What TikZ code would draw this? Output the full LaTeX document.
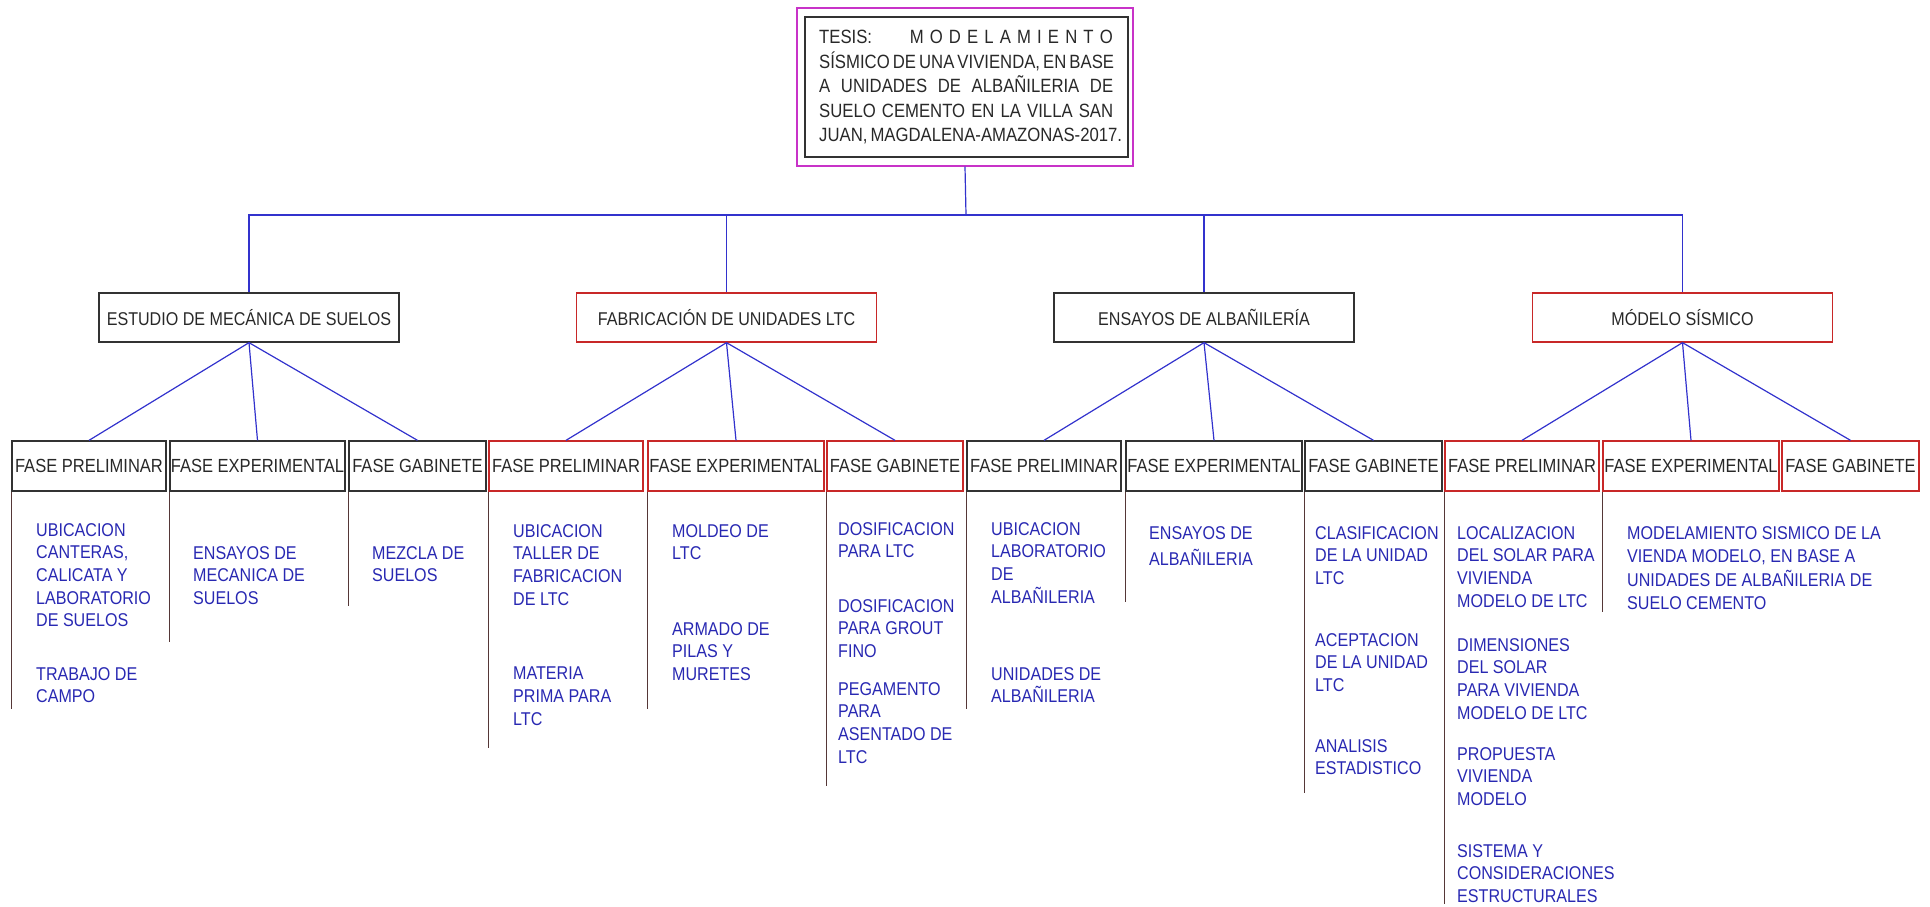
\documentclass[tikz,border=0pt]{standalone}
\usepackage{fontspec}
\newfontfamily\arialn{Liberation Sans}[FakeStretch=0.87]
\definecolor{txtblue}{RGB}{40,40,178}
\definecolor{lnblue}{RGB}{50,50,205}
\definecolor{boxblack}{RGB}{50,50,50}
\definecolor{boxred}{RGB}{200,40,40}
\definecolor{magen}{RGB}{200,50,200}
\definecolor{rulecol}{RGB}{85,55,55}
\definecolor{lbl}{RGB}{40,40,40}
\tikzset{
  blk/.style={draw=boxblack, line width=1.3pt, inner sep=0pt, text=lbl,
    font=\arialn\fontsize{18.5}{22}\selectfont},
  red/.style={blk, draw=boxred},
  lvone/.style={minimum width=300pt, minimum height=49pt},
  lvtwo/.style={minimum height=50pt, font=\arialn\fontsize{19}{22}\selectfont},
  conn/.style={draw=lnblue, line width=1.2pt},
  rulel/.style={draw=rulecol, line width=1.3pt},
  btxt/.style={anchor=north west, inner sep=0pt, align=left, text=txtblue,
    font=\arialn\fontsize{18.5}{22.7}\selectfont},
  ttl/.style={anchor=base west, inner sep=0pt, text=lbl,
    font=\arialn\fontsize{19.2}{24}\selectfont}
}
\begin{document}
\begin{tikzpicture}[x=1pt,y=-1pt]
\useasboundingbox (0,0) rectangle (1930,907);
% title
\node[draw=magen, line width=1.3pt, minimum width=336pt, minimum height=158pt, inner sep=0pt] (title) at (965,87) {};
\node[draw=boxblack, line width=1.3pt, minimum width=323pt, minimum height=140pt, inner sep=0pt] (tin) at (966.5,87) {};
\node[ttl] (t1a) at (819,43.5) {TESIS:};
\node[ttl, anchor=base east] (t1b) at (1113,43.5) {\makebox[203pt][s]{M O D E L A M I E N T O}};
\node[ttl] (t2) at (819,68) {\makebox[294pt][s]{SÍSMICO DE UNA VIVIENDA, EN BASE}};
\node[ttl] (t3) at (819,92.5) {\makebox[294pt][s]{A UNIDADES DE ALBAÑILERIA DE}};
\node[ttl] (t4) at (819,117) {\makebox[294pt][s]{SUELO CEMENTO EN LA VILLA SAN}};
\node[ttl] (t5) at (819,141.5) {\makebox[294pt][s]{JUAN, MAGDALENA-AMAZONAS-2017.}};
% level 1
\node[blk, lvone] (e1) at (249,317.5) {ESTUDIO DE MECÁNICA DE SUELOS};
\node[red, lvone] (f1) at (726.5,317.5) {FABRICACIÓN DE UNIDADES LTC};
\node[blk, lvone] (n1) at (1204,317.5) {ENSAYOS DE ALBAÑILERÍA};
\node[red, lvone] (m1) at (1682.5,317.5) {MÓDELO SÍSMICO};
% level 2
\node[blk, lvtwo, minimum width=154pt] (e2p) at (89,466) {FASE PRELIMINAR};
\node[blk, lvtwo, minimum width=175pt] (e2e) at (257.5,466) {FASE EXPERIMENTAL};
\node[blk, lvtwo, minimum width=137pt] (e2g) at (417.5,466) {FASE GABINETE};
\node[red, lvtwo, minimum width=154pt] (f2p) at (566,466) {FASE PRELIMINAR};
\node[red, lvtwo, minimum width=176pt] (f2e) at (736,466) {FASE EXPERIMENTAL};
\node[red, lvtwo, minimum width=136pt] (f2g) at (895,466) {FASE GABINETE};
\node[blk, lvtwo, minimum width=154pt] (n2p) at (1044,466) {FASE PRELIMINAR};
\node[blk, lvtwo, minimum width=176pt] (n2e) at (1214,466) {FASE EXPERIMENTAL};
\node[blk, lvtwo, minimum width=137pt] (n2g) at (1373.5,466) {FASE GABINETE};
\node[red, lvtwo, minimum width=154pt] (m2p) at (1522,466) {FASE PRELIMINAR};
\node[red, lvtwo, minimum width=176pt] (m2e) at (1691,466) {FASE EXPERIMENTAL};
\node[red, lvtwo, minimum width=137pt] (m2g) at (1850.5,466) {FASE GABINETE};
% bus
\coordinate (bus) at (966,215);
\draw[conn] (title.south) -- (bus);
\draw[conn] (e1.north) -- (e1.north |- bus) -- (m1.north |- bus) -- (m1.north);
\draw[conn] (f1.north) -- (f1.north |- bus);
\draw[conn] (n1.north) -- (n1.north |- bus);
% fans
\foreach \p/\a/\b/\c in {e1/e2p/e2e/e2g, f1/f2p/f2e/f2g, n1/n2p/n2e/n2g, m1/m2p/m2e/m2g}{
  \draw[conn] (\p.south) -- (\a.north);
  \draw[conn] (\p.south) -- (\b.north);
  \draw[conn] (\p.south) -- (\c.north);
}
% column rules
\draw[rulel] (e2p.south west) -- ++(0,217);
\draw[rulel] (e2e.south west) -- ++(0,150);
\draw[rulel] (e2g.south west) -- ++(0,114);
\draw[rulel] (f2p.south west) -- ++(0,256);
\draw[rulel] (f2e.south west) -- ++(0,217);
\draw[rulel] (f2g.south west) -- ++(0,294);
\draw[rulel] (n2p.south west) -- ++(0,217);
\draw[rulel] (n2e.south west) -- ++(0,110);
\draw[rulel] (n2g.south west) -- ++(0,301);
\draw[rulel] (m2p.south west) -- ++(0,412);
\draw[rulel] (m2e.south west) -- ++(0,120);
% blue texts
\node[btxt] (a1) at (36,523) {UBICACION\\CANTERAS,\\CALICATA Y\\LABORATORIO\\DE SUELOS};
\node[btxt] (a2) at (36,667) {TRABAJO DE\\CAMPO};
\node[btxt] (a3) at (193,546) {ENSAYOS DE\\MECANICA DE\\SUELOS};
\node[btxt] (a4) at (372,546) {MEZCLA DE\\SUELOS};
\node[btxt] (b1) at (513,524) {UBICACION\\TALLER DE\\FABRICACION\\DE LTC};
\node[btxt] (b2) at (513,667) {MATERIA\\PRIMA PARA\\LTC};
\node[btxt] (b3) at (672,524) {MOLDEO DE\\LTC};
\node[btxt] (b4) at (672,622) {ARMADO DE\\PILAS Y\\MURETES};
\node[btxt] (b5) at (838,522) {DOSIFICACION\\PARA LTC};
\node[btxt] (b6) at (838,599) {DOSIFICACION\\PARA GROUT\\FINO};
\node[btxt] (b7) at (838,682) {PEGAMENTO\\PARA\\ASENTADO DE\\LTC};
\node[btxt] (c1) at (991,522) {UBICACION\\LABORATORIO\\DE\\ALBAÑILERIA};
\node[btxt] (c2) at (991,667) {UNIDADES DE\\ALBAÑILERIA};
\node[btxt, font=\arialn\fontsize{18.5}{26}\selectfont] (c3) at (1149,526) {ENSAYOS DE\\ALBAÑILERIA};
\node[btxt] (c4) at (1315,526) {CLASIFICACION\\DE LA UNIDAD\\LTC};
\node[btxt] (c5) at (1315,633) {ACEPTACION\\DE LA UNIDAD\\LTC};
\node[btxt] (c6) at (1315,739) {ANALISIS\\ESTADISTICO};
\node[btxt] (d1) at (1457,526) {LOCALIZACION\\DEL SOLAR PARA\\VIVIENDA\\MODELO DE LTC};
\node[btxt] (d2) at (1457,638) {DIMENSIONES\\DEL SOLAR\\PARA VIVIENDA\\MODELO DE LTC};
\node[btxt] (d3) at (1457,747) {PROPUESTA\\VIVIENDA\\MODELO};
\node[btxt] (d4) at (1457,844) {SISTEMA Y\\CONSIDERACIONES\\ESTRUCTURALES};
\node[btxt, font=\arialn\fontsize{18.5}{23.5}\selectfont] (d5) at (1627,526) {MODELAMIENTO SISMICO DE LA\\VIENDA MODELO, EN BASE A\\UNIDADES DE ALBAÑILERIA DE\\SUELO CEMENTO};
\end{tikzpicture}
\end{document}
